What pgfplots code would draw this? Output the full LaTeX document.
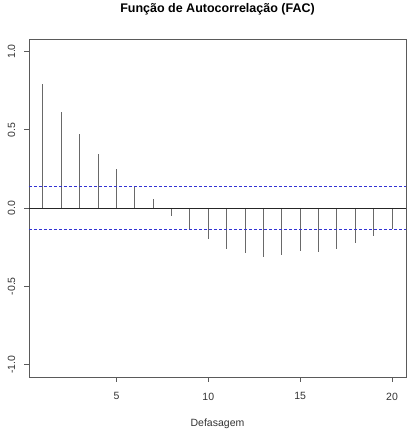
\documentclass[border=0pt]{standalone}
\usepackage{fontspec}
\setmainfont{Liberation Sans}
\usepackage{pgfplots}
\pgfplotsset{compat=1.18}
\definecolor{barcol}{RGB}{105,105,105}
\definecolor{boxcol}{RGB}{90,90,90}
\definecolor{cicol}{RGB}{50,50,210}
\begin{document}
\begin{tikzpicture}
\useasboundingbox (0,0) rectangle (410pt,431pt);
\begin{axis}[
  at={(29pt,54pt)}, anchor=south west,
  scale only axis, width=377pt, height=338pt,
  xmin=0.24, xmax=20.76, ymin=-1.08, ymax=1.08,
  xtick={5,10,15,20}, ytick={-1,-0.5,0,0.5,1},
  yticklabels={-1.0,-0.5,0.0,0.5,1.0},
  tick align=outside, major tick length=4.5pt,
  axis line style={boxcol, line width=0.9pt},
  tick style={boxcol, line width=0.8pt},
  xtick pos=bottom, ytick pos=left,
  /pgf/number format/assume math mode=true,
  ticklabel style={font=\fontsize{10.5}{12}\selectfont, text=black!80},
  xticklabel style={anchor=north, inner sep=0pt},
  xticklabel shift=11pt,
  yticklabel style={rotate=90, anchor=south, inner sep=0pt},
  yticklabel shift=9pt,
  title={\textbf{Função de Autocorrelação (FAC)}},
  title style={at={(axis description cs:0.5,1)}, anchor=center, yshift=24pt, font=\fontsize{12.5}{14}\selectfont},
  xlabel={Defasagem},
  xlabel style={at={(axis description cs:0.5,0)}, anchor=center, yshift=-47pt, font=\fontsize{10.5}{12}\selectfont, text=black!80},
  clip=false,
]
\addplot[ycomb, barcol, line width=1pt, mark=none] coordinates {
(1,0.79) (2,0.615) (3,0.475) (4,0.344) (5,0.25) (6,0.141) (7,0.06)
(8,-0.05) (9,-0.14) (10,-0.197) (11,-0.26) (12,-0.29) (13,-0.31)
(14,-0.30) (15,-0.276) (16,-0.278) (17,-0.265) (18,-0.222) (19,-0.18) (20,-0.137)
};
\addplot[black!85, line width=0.9pt, mark=none] coordinates {(0.24,0) (20.76,0)};
\addplot[color=cicol, line width=1pt, dash pattern=on 3pt off 2pt, mark=none] coordinates {(0.24,0.137) (20.76,0.137)};
\addplot[color=cicol, line width=1pt, dash pattern=on 3pt off 2pt, mark=none] coordinates {(0.24,-0.137) (20.76,-0.137)};
\end{axis}
\end{tikzpicture}
\end{document}
